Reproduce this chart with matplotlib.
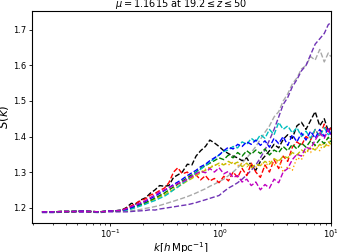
import numpy as np
import matplotlib
matplotlib.use("Agg")
import matplotlib.pyplot as plt

k = [0.024, 0.03, 0.037, 0.045, 0.055, 0.067, 0.08, 0.095, 0.11, 0.125,
     0.14, 0.155, 0.17, 0.19, 0.21, 0.23, 0.255, 0.28, 0.31, 0.34,
     0.375, 0.41, 0.45, 0.5, 0.55, 0.6, 0.66, 0.73, 0.8, 0.88,
     0.97, 1.07, 1.18, 1.3, 1.43, 1.57, 1.73, 1.9, 2.09, 2.3,
     2.53, 2.78, 3.06, 3.37, 3.7, 4.07, 4.48, 4.93, 5.42, 5.96,
     6.56, 7.22, 7.94, 8.73, 9.5, 10.0]

# flat large-scale part shared by most runs
low = [1.188, 1.188, 1.189, 1.189, 1.190, 1.189, 1.188, 1.190, 1.191, 1.192]
low_purple = [1.186, 1.186, 1.187, 1.187, 1.187, 1.187, 1.186, 1.188, 1.188, 1.188]

s_black = low + [1.200, 1.212, 1.210, 1.222, 1.228, 1.240, 1.250, 1.262, 1.260, 1.262,
                 1.285, 1.292, 1.300, 1.322, 1.320, 1.345, 1.360, 1.372, 1.390, 1.382,
                 1.372, 1.360, 1.352, 1.345, 1.340, 1.332, 1.340, 1.318, 1.305, 1.330,
                 1.345, 1.360, 1.378, 1.368, 1.392, 1.405, 1.395, 1.430, 1.440, 1.420,
                 1.445, 1.470, 1.430, 1.450, 1.415, 1.425]
s_red = low + [1.198, 1.205, 1.212, 1.220, 1.225, 1.235, 1.240, 1.248, 1.255, 1.270,
               1.300, 1.312, 1.295, 1.300, 1.285, 1.292, 1.278, 1.290, 1.275, 1.282,
               1.270, 1.288, 1.275, 1.300, 1.285, 1.310, 1.290, 1.325, 1.300, 1.285,
               1.320, 1.300, 1.335, 1.310, 1.345, 1.330, 1.370, 1.385, 1.375, 1.400,
               1.390, 1.420, 1.400, 1.435, 1.410, 1.425]
s_blue = low + [1.195, 1.200, 1.205, 1.212, 1.218, 1.225, 1.232, 1.240, 1.248, 1.256,
                1.265, 1.272, 1.280, 1.290, 1.298, 1.305, 1.315, 1.322, 1.332, 1.340,
                1.348, 1.360, 1.370, 1.365, 1.378, 1.372, 1.385, 1.378, 1.390, 1.375,
                1.388, 1.370, 1.395, 1.380, 1.400, 1.375, 1.405, 1.385, 1.410, 1.390,
                1.415, 1.395, 1.420, 1.400, 1.425, 1.405]
s_cyan = low + [1.193, 1.196, 1.200, 1.205, 1.210, 1.215, 1.220, 1.226, 1.232, 1.240,
                1.250, 1.258, 1.268, 1.278, 1.288, 1.298, 1.308, 1.318, 1.328, 1.338,
                1.348, 1.358, 1.362, 1.372, 1.368, 1.385, 1.378, 1.395, 1.385, 1.405,
                1.395, 1.420, 1.405, 1.440, 1.420, 1.430, 1.410, 1.425, 1.400, 1.415,
                1.395, 1.420, 1.400, 1.425, 1.405, 1.410]
s_green = low + [1.195, 1.199, 1.203, 1.208, 1.214, 1.220, 1.227, 1.234, 1.241, 1.250,
                 1.258, 1.266, 1.275, 1.284, 1.292, 1.300, 1.310, 1.318, 1.325, 1.332,
                 1.340, 1.335, 1.348, 1.340, 1.355, 1.345, 1.360, 1.350, 1.362, 1.352,
                 1.365, 1.348, 1.362, 1.355, 1.372, 1.360, 1.378, 1.365, 1.382, 1.370,
                 1.388, 1.375, 1.392, 1.380, 1.398, 1.385]
s_yellow = low + [1.193, 1.197, 1.201, 1.207, 1.212, 1.218, 1.224, 1.230, 1.236, 1.243,
                  1.250, 1.258, 1.266, 1.275, 1.282, 1.290, 1.298, 1.305, 1.312, 1.318,
                  1.325, 1.320, 1.330, 1.322, 1.328, 1.315, 1.325, 1.312, 1.322, 1.318,
                  1.330, 1.322, 1.338, 1.330, 1.345, 1.340, 1.355, 1.348, 1.362, 1.355,
                  1.370, 1.362, 1.378, 1.370, 1.385, 1.378]
s_magenta = low + [1.197, 1.203, 1.208, 1.214, 1.220, 1.228, 1.236, 1.244, 1.250, 1.256,
                   1.262, 1.268, 1.272, 1.280, 1.288, 1.295, 1.302, 1.298, 1.310, 1.300,
                   1.312, 1.295, 1.302, 1.285, 1.290, 1.272, 1.280, 1.262, 1.272, 1.250,
                   1.265, 1.255, 1.280, 1.270, 1.300, 1.310, 1.335, 1.350, 1.345, 1.370,
                   1.365, 1.390, 1.410, 1.395, 1.420, 1.405]
s_orange = low + [1.194, 1.198, 1.203, 1.209, 1.214, 1.220, 1.227, 1.233, 1.240, 1.246,
                  1.254, 1.262, 1.270, 1.278, 1.286, 1.294, 1.300, 1.308, 1.314, 1.320,
                  1.318, 1.325, 1.320, 1.328, 1.318, 1.325, 1.315, 1.322, 1.312, 1.325,
                  1.315, 1.330, 1.318, 1.335, 1.300, 1.315, 1.305, 1.340, 1.335, 1.360,
                  1.355, 1.375, 1.360, 1.385, 1.370, 1.395]
s_gray = low + [1.190, 1.191, 1.193, 1.195, 1.198, 1.200, 1.203, 1.206, 1.210, 1.214,
                1.218, 1.222, 1.226, 1.231, 1.236, 1.241, 1.247, 1.253, 1.260, 1.266,
                1.273, 1.280, 1.290, 1.300, 1.312, 1.325, 1.340, 1.355, 1.372, 1.392,
                1.412, 1.430, 1.455, 1.470, 1.500, 1.520, 1.548, 1.565, 1.590, 1.600,
                1.625, 1.615, 1.645, 1.610, 1.635, 1.625]
s_purple = low_purple + [1.188, 1.189, 1.190, 1.191, 1.192, 1.194, 1.193, 1.196, 1.198, 1.200,
                         1.202, 1.204, 1.206, 1.208, 1.211, 1.214, 1.218, 1.222, 1.226, 1.230,
                         1.234, 1.245, 1.255, 1.262, 1.270, 1.280, 1.292, 1.305, 1.320, 1.340,
                         1.362, 1.390, 1.420, 1.455, 1.490, 1.510, 1.540, 1.560, 1.585, 1.600,
                         1.630, 1.660, 1.675, 1.690, 1.715, 1.720]

series = [
    (s_gray, 'darkgray', '--'),
    (s_purple, '#6f33b5', '--'),
    (s_black, 'k', '--'),
    (s_red, 'r', '--'),
    (s_orange, 'orange', ':'),
    (s_yellow, 'y', '--'),
    (s_green, 'g', '--'),
    (s_cyan, 'c', '--'),
    (s_blue, 'b', '--'),
    (s_magenta, 'm', '--'),
]

fig = plt.figure(figsize=(3.37, 2.52), dpi=100)
ax = fig.add_axes([0.0935, 0.117, 0.888, 0.839])
for s, color, ls in series:
    ax.plot(k, s, ls, color=color, lw=1.0)

ax.set_xscale('log')
ax.set_xlim(0.0193, 10)
ax.set_ylim(1.158, 1.753)
ax.set_yticks([1.2, 1.3, 1.4, 1.5, 1.6, 1.7])
ax.tick_params(labelsize=6, length=2.5, width=0.6, pad=1.5)
ax.tick_params(which='minor', length=1.5, width=0.5)
for sp in ax.spines.values():
    sp.set_linewidth(0.8)
ax.set_xlabel(r'$k[h\,\mathrm{Mpc}^{-1}]$', fontsize=7.5, labelpad=-0.5)
ax.set_ylabel(r'$S(k)$', fontsize=8.5, labelpad=1)
ax.set_title(r'$\mu = 1.1615$ at $19.2 \leq z \leq 50$', fontsize=7, pad=2)

fig.savefig('out.png', dpi=100)
